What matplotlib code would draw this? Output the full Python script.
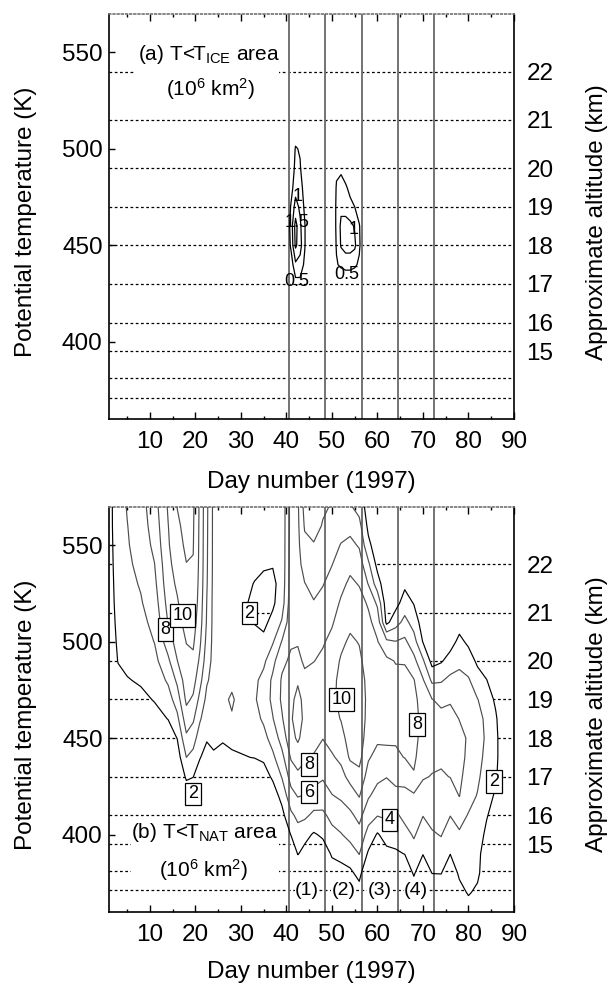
import numpy as np
import matplotlib
matplotlib.use("Agg")
import matplotlib.pyplot as plt
from matplotlib.patches import Rectangle

plt.rcParams['font.family'] = ['Liberation Sans', 'DejaVu Sans']
plt.rcParams['mathtext.fontset'] = 'custom'
plt.rcParams['mathtext.rm'] = 'Liberation Sans'
plt.rcParams['mathtext.it'] = 'Liberation Sans:italic'

# ---- data ----
# approximate altitude (km) and the potential temperature it sits at
alt_km = [13, 14, 15, 16, 17, 18, 19, 20, 21, 22]
alt_theta = [371, 381, 395, 410, 430, 450, 470, 490, 515, 540]
alt_labelled = [15, 16, 17, 18, 19, 20, 21, 22]

# period boundaries (vertical lines) and their names
period_days = [40.5, 48.5, 56.5, 64.5, 72.5]
period_names = ['(1)', '(2)', '(3)', '(4)']

# (a) T < T_ICE area, 10^6 km^2 ; one list per day, rows = theta_ice
theta_ice = [420, 430, 440, 450, 460, 470, 480, 490, 500, 510, 520]
days_ice = [38, 40, 41, 42, 43, 44, 45, 50, 51, 52, 53, 54, 55, 56, 57, 59]
ice_cols = [
    [0, 0, 0, 0, 0, 0, 0, 0, 0, 0, 0],
    [0, 0, 0, 0, 0, 0, 0, 0, 0, 0, 0],
    [0, 0, 0.2, 0.6, 0.7, 0.55, 0.3, 0.1, 0, 0, 0],
    [0, 0.3, 0.9, 1.6, 1.7, 1.2, 0.8, 0.65, 0.55, 0.2, 0],
    [0, 0.35, 0.8, 1.2, 1.1, 0.9, 0.7, 0.55, 0.45, 0, 0],
    [0, 0, 0.4, 0.55, 0.55, 0.4, 0.3, 0.1, 0, 0, 0],
    [0, 0, 0, 0, 0, 0, 0, 0, 0, 0, 0],
    [0, 0, 0, 0, 0, 0, 0, 0, 0, 0, 0],
    [0, 0, 0.45, 0.55, 0.6, 0.6, 0.55, 0.4, 0, 0, 0],
    [0, 0, 0.6, 1.05, 1.1, 0.9, 0.6, 0.45, 0, 0, 0],
    [0, 0, 0.7, 1.2, 1.2, 0.8, 0.55, 0.3, 0, 0, 0],
    [0, 0, 0.7, 1.2, 1.15, 0.6, 0.4, 0.1, 0, 0, 0],
    [0, 0, 0.6, 1.1, 0.95, 0.5, 0.2, 0, 0, 0, 0],
    [0, 0, 0.4, 0.6, 0.55, 0.2, 0, 0, 0, 0, 0],
    [0, 0, 0, 0, 0, 0, 0, 0, 0, 0, 0],
    [0, 0, 0, 0, 0, 0, 0, 0, 0, 0, 0],
]
ice_levels = [0.5, 1, 1.5]

# (b) T < T_NAT area, 10^6 km^2 ; one list per day, rows = theta_nat
theta_nat = [360, 370, 380, 390, 400, 410, 420, 430, 440, 450, 460,
             470, 480, 490, 500, 510, 520, 530, 540, 550, 560, 570]
days_nat = [1, 3, 5, 8, 11, 14, 16, 18, 19.5, 21, 22.5, 24, 26, 28, 30, 33, 35,
            37, 39, 41, 42.5, 44, 46, 48, 50, 52, 54, 56, 58, 60, 62, 64, 66,
            68, 70, 72, 74, 76, 78, 80, 82, 84, 86, 88, 90]
nat_cols = [
    [0, 0, 0, 0, 0, 0, 0, 0, 0, 0, 0, 0, 0, 0.2, 0.5, 0.8, 1.0, 1.1, 1.2, 1.25, 1.3, 1.3],
    [0, 0, 0, 0, 0, 0, 0, 0, 0, 0, 0, 0.4, 1.3, 2.1, 2.4, 2.6, 2.75, 2.85, 2.95, 3.05, 3.15, 3.2],
    [0, 0, 0, 0, 0, 0, 0, 0, 0, 0, 0.3, 0.9, 1.9, 2.4, 2.8, 3.1, 3.3, 3.5, 3.7, 3.85, 3.95, 4.1],
    [0, 0, 0, 0, 0, 0, 0, 0, 0, 0.3, 0.9, 1.6, 2.2, 2.7, 3.1, 3.5, 3.85, 4.15, 4.45, 4.75, 5.0, 5.2],
    [0, 0, 0, 0, 0, 0, 0, 0, 0, 0.6, 1.4, 2.1, 2.8, 3.4, 4.05, 4.5, 5.0, 5.5, 5.95, 6.5, 6.9, 7.2],
    [0, 0, 0, 0, 0, 0, 0, 0, 0.3, 1.0, 2.05, 3.1, 4.3, 5.6, 7.0, 8.1, 8.7, 9.2, 9.5, 9.8, 9.95, 10.2],
    [0, 0, 0, 0, 0, 0, 0, 0.2, 1.0, 2.05, 3.5, 5.0, 6.4, 7.95, 8.8, 9.4, 9.8, 10.3, 10.8, 11.2, 11.6, 12.05],
    [0, 0, 0, 0, 0, 0, 0.8, 2.3, 4.0, 5.6, 7.1, 8.4, 9.1, 9.6, 10.05, 10.6, 11.2, 11.6, 11.95, 12.4, 12.7, 13.0],
    [0, 0, 0, 0, 0, 0, 0.7, 2.05, 3.4, 4.8, 6.3, 7.7, 8.8, 9.6, 10.3, 10.9, 11.4, 11.7, 11.9, 12.1, 12.2, 12.3],
    [0, 0, 0, 0, 0, 0, 0, 0.8, 2.1, 3.0, 4.2, 5.4, 6.6, 7.6, 8.3, 8.8, 9.1, 9.3, 9.45, 9.5, 9.55, 9.6],
    [0, 0, 0, 0, 0, 0, 0, 0, 1.2, 2.2, 2.9, 3.5, 4.2, 4.9, 5.4, 5.8, 5.95, 6.15, 6.25, 6.3, 6.35, 6.4],
    [0, 0, 0, 0, 0, 0, 0, 0, 1.7, 2.5, 3.0, 3.3, 3.4, 3.4, 3.4, 3.4, 3.4, 3.45, 3.5, 3.5, 3.5, 3.5],
    [0, 0, 0, 0, 0, 0, 0, 0, 1.4, 2.2, 3.0, 3.5, 3.3, 3.0, 2.8, 2.7, 2.7, 2.8, 2.9, 3.0, 3.0, 3.0],
    [0, 0, 0, 0, 0, 0, 0, 0, 1.6, 2.6, 3.8, 4.3, 3.5, 2.9, 2.6, 2.5, 2.5, 2.6, 2.6, 2.7, 2.7, 2.7],
    [0, 0, 0, 0, 0, 0, 0, 0, 1.9, 2.4, 2.9, 3.2, 3.0, 2.7, 2.4, 2.3, 2.3, 2.4, 2.4, 2.5, 2.5, 2.5],
    [0, 0, 0, 0, 0, 0, 0, 0.8, 2.05, 2.8, 3.4, 3.8, 3.6, 3.0, 2.4, 1.95, 1.7, 1.95, 2.3, 2.5, 2.6, 2.7],
    [0, 0, 0, 0, 0, 0, 0, 1.2, 2.3, 3.4, 4.3, 4.8, 4.6, 3.6, 2.4, 1.6, 1.3, 1.6, 2.2, 2.6, 2.8, 2.9],
    [0, 0, 0, 0, 0, 0, 1.0, 2.3, 3.6, 4.8, 5.9, 6.5, 6.4, 5.4, 3.8, 2.5, 1.7, 1.6, 2.1, 2.3, 2.4, 2.5],
    [0, 0, 0, 0, 0, 1.4, 2.6, 4.1, 5.4, 6.8, 7.8, 8.3, 8.2, 7.6, 6.1, 4.2, 3.0, 2.7, 2.6, 2.6, 2.6, 2.6],
    [0, 0, 0, 0, 2.1, 3.6, 5.3, 6.8, 8.2, 9.4, 9.8, 9.6, 9.0, 8.3, 7.8, 7.4, 7.2, 7.0, 6.9, 6.8, 6.7, 6.7],
    [0, 0, 0, 2.1, 3.2, 4.5, 6.1, 7.5, 9.0, 10.3, 10.8, 10.5, 9.8, 8.6, 7.8, 7.3, 7.0, 6.8, 6.6, 6.5, 6.4, 6.3],
    [0, 0, 0, 1.4, 2.6, 4.4, 5.9, 7.2, 8.3, 9.2, 9.6, 9.5, 8.6, 7.6, 7.0, 6.6, 6.3, 6.05, 5.3, 4.5, 3.8, 3.3],
    [0, 0, 0, 0, 1.8, 3.6, 5.2, 6.8, 7.8, 8.8, 9.4, 9.4, 8.8, 7.95, 7.3, 6.7, 6.1, 5.5, 4.8, 4.1, 3.5, 3.1],
    [0, 0, 0, 1.0, 2.3, 3.6, 5.1, 6.2, 7.2, 8.05, 8.9, 9.4, 9.0, 8.4, 7.8, 7.2, 6.6, 5.9, 5.3, 4.7, 4.1, 3.8],
    [0, 0, 1.2, 2.2, 3.4, 4.6, 5.9, 7.0, 7.8, 8.6, 9.3, 9.7, 9.6, 9.1, 8.5, 7.8, 7.3, 6.7, 5.95, 5.3, 4.6, 4.1],
    [0, 0, 1.4, 2.5, 3.9, 5.05, 6.3, 7.4, 8.4, 9.3, 10.1, 10.4, 10.4, 10.2, 9.6, 8.9, 8.2, 7.6, 6.9, 6.1, 5.2, 4.3],
    [0, 0, 1.6, 3.1, 4.6, 5.6, 7.05, 8.6, 10.3, 10.9, 11.2, 11.3, 11.2, 10.9, 10.3, 9.6, 9.0, 8.3, 7.6, 6.5, 5.4, 4.2],
    [0, 1.2, 2.6, 4.05, 5.3, 6.6, 8.1, 9.4, 10.6, 11.0, 11.1, 11.1, 10.9, 10.4, 9.9, 9.3, 8.6, 7.9, 7.0, 5.8, 4.6, 3.3],
    [0, 0, 0, 1.7, 3.3, 4.8, 6.2, 7.2, 8.2, 9.0, 9.4, 9.5, 9.4, 9.1, 8.8, 8.4, 7.8, 5.9, 4.4, 2.5, 1.5, 1.0],
    [0, 0, 0, 0, 1.8, 4.1, 5.3, 6.4, 7.4, 8.3, 8.8, 8.9, 8.8, 8.5, 8.1, 7.3, 5.6, 2.9, 1.4, 0.8, 0.4, 0.2],
    [0, 0, 0, 1.4, 2.9, 4.3, 5.2, 6.05, 7.5, 8.3, 8.6, 8.7, 8.6, 8.4, 6.5, 1.5, 0.8, 0.5, 0.3, 0.2, 0.1, 0],
    [0, 0, 0, 1.7, 2.9, 3.7, 5.1, 6.9, 7.7, 8.2, 8.5, 8.6, 8.5, 7.9, 6.05, 3.2, 1.3, 0.6, 0.3, 0.2, 0.1, 0],
    [0, 0, 0, 2.05, 3.4, 4.5, 5.5, 6.6, 8.05, 8.6, 8.9, 9.0, 8.8, 7.8, 6.4, 4.6, 2.9, 1.6, 0.8, 0.4, 0.2, 0],
    [0, 0.5, 2.3, 3.3, 4.2, 4.95, 5.7, 7.8, 8.4, 8.7, 8.8, 8.6, 8.1, 6.6, 4.8, 3.2, 1.9, 1.0, 0.5, 0.2, 0.1, 0],
    [0, 0, 0, 2.1, 3.2, 4.05, 5.0, 6.2, 6.8, 7.2, 7.3, 7.0, 6.2, 4.3, 1.9, 1.0, 0.5, 0.2, 0, 0, 0, 0],
    [0, 0, 2.05, 2.9, 3.8, 4.6, 5.3, 5.9, 6.5, 6.8, 6.8, 6.05, 3.6, 1.3, 0.5, 0.2, 0, 0, 0, 0, 0, 0],
    [0, 0, 2.1, 3.2, 4.1, 4.8, 5.3, 5.8, 6.3, 6.6, 6.5, 5.6, 3.8, 1.8, 0.7, 0.2, 0, 0, 0, 0, 0, 0],
    [0, 0, 0, 2.05, 3.0, 4.05, 5.0, 6.05, 6.6, 6.8, 6.6, 5.8, 4.5, 2.8, 1.2, 0.4, 0, 0, 0, 0, 0, 0],
    [0, 1.0, 2.5, 3.3, 3.8, 4.6, 6.05, 6.4, 6.6, 6.5, 5.95, 5.2, 4.5, 3.6, 2.5, 1.2, 0.4, 0, 0, 0, 0, 0],
    [0.5, 2.3, 2.8, 3.1, 3.4, 3.9, 4.6, 5.2, 5.6, 5.8, 5.6, 5.0, 4.2, 3.0, 1.6, 0.6, 0, 0, 0, 0, 0, 0],
    [0, 1.4, 2.6, 3.0, 3.3, 3.6, 3.9, 4.3, 4.6, 4.8, 4.6, 4.05, 2.9, 1.6, 0.6, 0.1, 0, 0, 0, 0, 0, 0],
    [0, 0, 0, 0, 1.4, 2.2, 2.8, 3.2, 3.5, 3.7, 3.6, 3.2, 2.05, 0.9, 0.3, 0, 0, 0, 0, 0, 0, 0],
    [0, 0, 0, 0, 0, 0.8, 1.7, 2.3, 2.6, 2.6, 2.3, 1.6, 0.7, 0.2, 0, 0, 0, 0, 0, 0, 0, 0],
    [0, 0, 0, 0, 0, 0, 0, 0, 0, 0, 0, 0, 0, 0, 0, 0, 0, 0, 0, 0, 0, 0],
    [0, 0, 0, 0, 0, 0, 0, 0, 0, 0, 0, 0, 0, 0, 0, 0, 0, 0, 0, 0, 0, 0],
]
nat_levels = [2, 4, 6, 8, 10, 12]

FS = 17.5

fig = plt.figure(figsize=(6.15, 9.86), dpi=100)
ax_a = fig.add_axes([0.1772, 0.5751, 0.6585, 0.4108])
ax_b = fig.add_axes([0.1772, 0.0754, 0.6585, 0.4108])


def frame(ax):
    ax.set_xlim(1, 90)
    ax.set_ylim(360, 570)
    for t in alt_theta:
        ax.axhline(t, color='black', lw=0.9, ls=(0, (2.2, 2.0)), zorder=1)
    for d in period_days:
        ax.axvline(d, color='0.45', lw=1.4, zorder=2)
    ax.set_xticks([10, 20, 30, 40, 50, 60, 70, 80, 90])
    ax.set_xticks([5, 15, 25, 35, 45, 55, 65, 75, 85], minor=True)
    ax.set_yticks([400, 450, 500, 550])
    ax.tick_params(axis='x', which='both', direction='in', top=True, bottom=True,
                   width=1, labelsize=FS, pad=9)
    ax.tick_params(axis='x', which='major', length=5)
    ax.tick_params(axis='x', which='minor', length=2.5)
    ax.tick_params(axis='y', direction='in', length=4.3, width=1, right=False,
                   labelsize=FS, pad=4.5)
    for s in ['left', 'right', 'bottom']:
        ax.spines[s].set_linewidth(1.2)
    ax.spines['top'].set_linestyle((0, (1, 1.5)))
    ax.spines['top'].set_color('0.45')
    ax.spines['top'].set_linewidth(1.2)

    ax2 = ax.twinx()
    ax2.set_ylim(360, 570)
    ax2.set_yticks([alt_theta[alt_km.index(k)] for k in alt_labelled])
    ax2.set_yticklabels([str(k) for k in alt_labelled])
    ax2.tick_params(axis='y', length=0, pad=9, labelsize=FS)
    for s in ax2.spines.values():
        s.set_visible(False)


frame(ax_a)
frame(ax_b)

# panel (a)
z_ice = np.array(ice_cols).T
ax_a.contour(days_ice, theta_ice, z_ice, levels=ice_levels, colors='black',
             linewidths=0.9, zorder=3)
for d, t, s in [(42.4, 475.4, '1'), (42.3, 461.6, '1.5'), (42.3, 431.2, '0.5'),
                (54.8, 458, '1'), (53.2, 434.7, '0.5')]:
    ax_a.text(d, t, s, fontsize=13, ha='center', va='center', zorder=4)
ax_a.add_patch(Rectangle((6.7, 523), 31.7, 34, fc='white', ec='none', zorder=3))
ax_a.text(22.9, 549.2, r'(a) T<T$_{\mathrm{ICE}}$ area', fontsize=15,
          ha='center', va='center', zorder=4)
ax_a.text(23.3, 531, r'(10$^6$ km$^2$)', fontsize=15, ha='center', va='center', zorder=4)

# panel (b)
z_nat = np.array(nat_cols).T
ax_b.contourf(days_nat, theta_nat, z_nat, levels=[2, 100], colors='white', zorder=1.5)
ax_b.contour(days_nat, theta_nat, z_nat, levels=nat_levels,
             colors=['black', '0.3', '0.3', '0.3', '0.3', '0.3'],
             linewidths=0.85, zorder=3)
box = dict(boxstyle='square,pad=0.15', fc='white', ec='black', lw=0.9)
for d, t, s in [(13.4, 506.2, '8'), (17.2, 513.6, '10'), (31.9, 514.8, '2'),
                (19.5, 421, '2'), (45.0, 436.4, '8'), (45.0, 421.9, '6'),
                (52.1, 470, '10'), (62.7, 407.6, '4'), (68.7, 457, '8'),
                (85.6, 427.5, '2')]:
    ax_b.text(d, t, s, fontsize=13, ha='center', va='center', bbox=box, zorder=5)
for i, name in enumerate(period_names):
    mid = (period_days[i] + period_days[i + 1]) / 2
    ax_b.text(mid, 370.8, name, fontsize=14, ha='center', va='center', zorder=5,
              bbox=dict(fc='white', ec='none', pad=0.3))
ax_b.add_patch(Rectangle((5.9, 374), 32.5, 34, fc='white', ec='none', zorder=3))
ax_b.text(22.0, 401.2, r'(b) T<T$_{\mathrm{NAT}}$ area', fontsize=15,
          ha='center', va='center', zorder=4)
ax_b.text(21.8, 381.4, r'(10$^6$ km$^2$)', fontsize=15, ha='center', va='center', zorder=4)

# axis titles
fig.text(0.5065, 0.5115, 'Day number (1997)', fontsize=FS, ha='center', va='center')
fig.text(0.5065, 0.0145, 'Day number (1997)', fontsize=FS, ha='center', va='center')
fig.text(0.0415, 0.7748, 'Potential temperature (K)', fontsize=FS, rotation=90,
         ha='center', va='center')
fig.text(0.0415, 0.2754, 'Potential temperature (K)', fontsize=FS, rotation=90,
         ha='center', va='center')
fig.text(0.9707, 0.7748, 'Approximate altitude (km)', fontsize=FS, rotation=90,
         ha='center', va='center')
fig.text(0.9707, 0.2754, 'Approximate altitude (km)', fontsize=FS, rotation=90,
         ha='center', va='center')

fig.savefig('out.png', dpi=100)
